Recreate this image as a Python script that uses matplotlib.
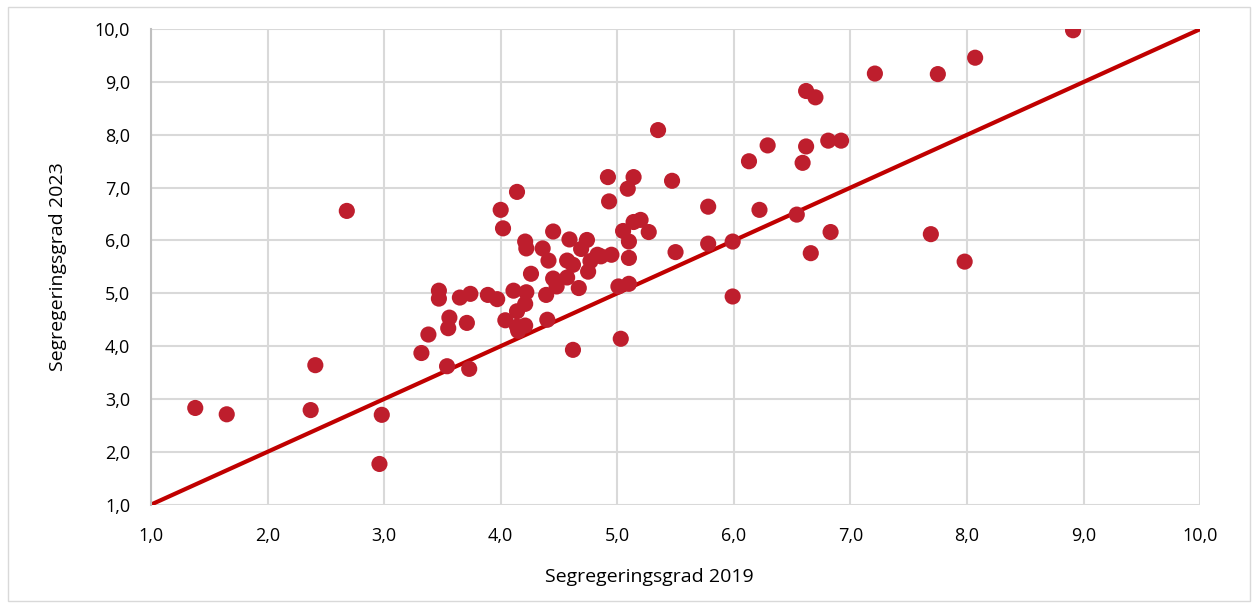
import numpy as np
import matplotlib.pyplot as plt
from matplotlib.ticker import FuncFormatter, MultipleLocator
from matplotlib.patches import Rectangle

plt.rcParams['font.family'] = ['Open Sans', 'DejaVu Sans']

# segregeringsgrad per område, 2019 vs 2023
seg_2019 = [1.38, 1.65, 2.37, 2.41, 2.68, 2.98, 2.96, 3.32, 3.38, 3.47,
            3.47, 3.54, 3.56, 3.55, 3.65, 3.74, 3.71, 3.73, 3.89, 3.97,
            4.00, 4.02, 4.04, 4.11, 4.14, 4.14, 4.14, 4.15, 4.21, 4.21,
            4.22, 4.21, 4.22, 4.26, 4.36, 4.39, 4.40, 4.41, 4.45, 4.45,
            4.48, 4.57, 4.57, 4.59, 4.62, 4.62, 4.67, 4.69, 4.74, 4.75,
            4.77, 4.83, 4.86, 4.92, 4.93, 4.95, 5.01, 5.03, 5.05, 5.09,
            5.10, 5.10, 5.10, 5.14, 5.14, 5.20, 5.27, 5.35, 5.47, 5.50,
            5.78, 5.78, 5.99, 5.99, 6.13, 6.22, 6.29, 6.54, 6.59, 6.62,
            6.62, 6.66, 6.70, 6.81, 6.83, 6.92, 7.21, 7.69, 7.75, 7.98,
            8.07, 8.91]
seg_2023 = [2.83, 2.71, 2.79, 3.64, 6.56, 2.70, 1.77, 3.87, 4.22, 5.05,
            4.90, 3.62, 4.54, 4.34, 4.92, 4.99, 4.44, 3.57, 4.97, 4.89,
            6.58, 6.23, 4.49, 5.05, 6.92, 4.66, 4.37, 4.29, 4.80, 4.39,
            5.02, 5.98, 5.85, 5.37, 5.85, 4.97, 4.50, 5.62, 6.17, 5.28,
            5.13, 5.30, 5.62, 6.02, 5.54, 3.93, 5.10, 5.84, 6.01, 5.41,
            5.61, 5.73, 5.70, 7.20, 6.74, 5.73, 5.13, 4.14, 6.18, 6.98,
            5.98, 5.67, 5.18, 7.20, 6.35, 6.39, 6.16, 8.09, 7.13, 5.78,
            6.64, 5.94, 5.98, 4.94, 7.50, 6.58, 7.80, 6.49, 7.47, 8.83,
            7.78, 5.76, 8.71, 7.89, 6.16, 7.89, 9.16, 6.12, 9.15, 5.60,
            9.46, 9.98]

# referanselinje (lik segregering begge år)
ref_line = [1.0, 10.0]

fig = plt.figure(figsize=(12.58, 6.08), dpi=100)
ax = fig.add_axes([0.12, 0.17, 0.834, 0.782])

ax.plot(ref_line, ref_line, color='#C00000', lw=3, zorder=2, solid_capstyle='butt')
ax.scatter(seg_2019, seg_2023, s=135, color='#BE1E2D', edgecolors='none', zorder=3)

ax.set_xlim(1, 10)
ax.set_ylim(1, 10)
ax.xaxis.set_major_locator(MultipleLocator(1))
ax.yaxis.set_major_locator(MultipleLocator(1))
fmt = FuncFormatter(lambda v, p: '{:.1f}'.format(v).replace('.', ','))
ax.xaxis.set_major_formatter(fmt)
ax.yaxis.set_major_formatter(fmt)

ax.grid(True, color='#D9D9D9', lw=1.5, zorder=0)
ax.set_axisbelow(True)
for s in ['top', 'right', 'bottom']:
    ax.spines[s].set_visible(False)
ax.spines['left'].set_color('#BFBFBF')
ax.spines['left'].set_linewidth(1.5)
ax.tick_params(length=0, labelsize=13, colors='#000000')
ax.tick_params(axis='x', pad=16)
ax.tick_params(axis='y', pad=15)

ax.set_xlabel('Segregeringsgrad 2019', fontsize=14, va='center')
ax.set_ylabel('Segregeringsgrad 2023', fontsize=14, va='center')
ax.xaxis.set_label_coords(0.475, -0.152)
ax.yaxis.set_label_coords(-0.0886, 0.5)

fig.patches.append(Rectangle((0.006, 0.012), 0.988, 0.976, transform=fig.transFigure,
                             fill=False, edgecolor='#D9D9D9', lw=1))

fig.savefig('out.png', dpi=100)
